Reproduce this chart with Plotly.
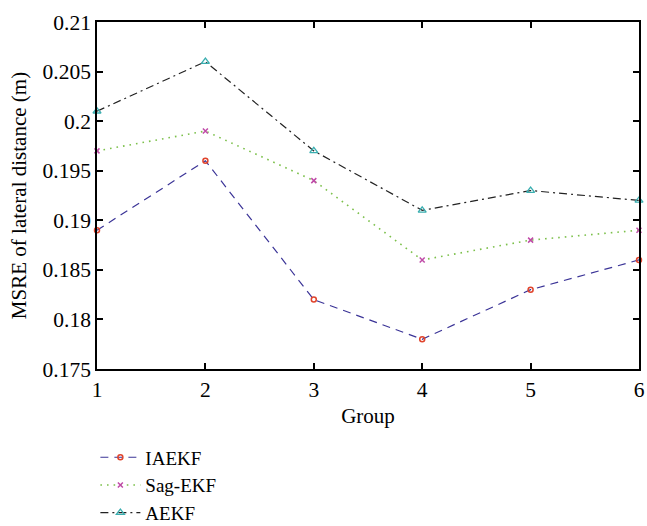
import plotly.graph_objects as go

groups = [1, 2, 3, 4, 5, 6]
iaekf = [0.189, 0.196, 0.182, 0.178, 0.183, 0.186]
sag_ekf = [0.197, 0.199, 0.194, 0.186, 0.188, 0.189]
aekf = [0.201, 0.206, 0.197, 0.191, 0.193, 0.192]

y_ticks = [0.175, 0.18, 0.185, 0.19, 0.195, 0.2, 0.205, 0.21]
y_tick_text = ["0.175", "0.18", "0.185", "0.19", "0.195", "0.2", "0.205", "0.21"]

serif = "Liberation Serif"

fig = go.Figure()
fig.add_trace(go.Scatter(
    x=groups, y=iaekf, name="IAEKF", mode="lines+markers",
    line=dict(color="#3b3497", width=1.2, dash="8px,6px"),
    marker=dict(symbol="circle-open", size=5, color="#e0442c", line=dict(width=1.5)),
    cliponaxis=False,
))
fig.add_trace(go.Scatter(
    x=groups, y=sag_ekf, name="Sag-EKF", mode="lines+markers",
    line=dict(color="#7cc04b", width=1.6, dash="1.6px,5px"),
    marker=dict(symbol="x-thin-open", size=5, color="#c04aa8", line=dict(width=1.5)),
    cliponaxis=False,
))
fig.add_trace(go.Scatter(
    x=groups, y=aekf, name="AEKF", mode="lines+markers",
    line=dict(color="#222222", width=1.2, dash="8px,4px,2px,4px"),
    marker=dict(symbol="triangle-up-open", size=7, color="#3aaeb0", line=dict(width=1.3)),
    cliponaxis=False,
))

axis_common = dict(
    showline=True, linecolor="black", linewidth=1.5, mirror="ticks",
    ticks="inside", ticklen=6, tickcolor="black", tickwidth=1.5,
    showgrid=False, zeroline=False, automargin=False,
    tickfont=dict(family=serif, size=21.5, color="black"),
)

fig.update_layout(
    width=647, height=526,
    margin=dict(l=97, r=8, t=22, b=157, autoexpand=False),
    paper_bgcolor="white", plot_bgcolor="white",
    font=dict(family=serif, size=21, color="black"),
    xaxis=dict(range=[1, 6], tickvals=groups,
               title=dict(text="Group", standoff=8, font=dict(family=serif, size=21)),
               **axis_common),
    yaxis=dict(range=[0.175, 0.21], tickvals=y_ticks, ticktext=y_tick_text,
               title=dict(text="MSRE of lateral distance (m)", standoff=10,
                          font=dict(family=serif, size=21)),
               **axis_common),
    legend=dict(x=-0.003, y=-0.2, xanchor="left", yanchor="top",
                font=dict(family=serif, size=19), itemwidth=40,
                tracegroupgap=0, bgcolor="rgba(0,0,0,0)"),
    showlegend=True,
)

fig.write_html("out.html")
